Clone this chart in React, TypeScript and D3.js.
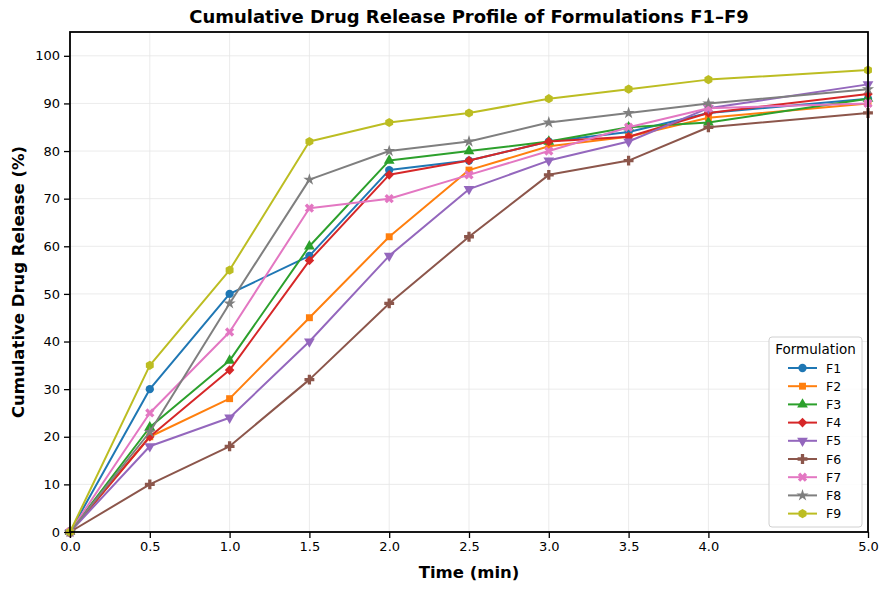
import { useEffect, useRef } from "react";
import * as d3 from "d3";

const times = [0, 0.5, 1.0, 1.5, 2.0, 2.5, 3.0, 3.5, 4.0, 5.0];
const xTicks = [0, 0.5, 1.0, 1.5, 2.0, 2.5, 3.0, 3.5, 4.0, 5.0];
const yTicks = [0, 10, 20, 30, 40, 50, 60, 70, 80, 90, 100];

const formulations = ["F1", "F2", "F3", "F4", "F5", "F6", "F7", "F8", "F9"];
const f1 = [0, 30, 50, 58, 76, 78, 82, 84, 88, 91];
const f2 = [0, 20, 28, 45, 62, 76, 81, 83, 87, 90];
const f3 = [0, 22, 36, 60, 78, 80, 82, 85, 86, 91];
const f4 = [0, 20, 34, 57, 75, 78, 82, 83, 88, 92];
const f5 = [0, 18, 24, 40, 58, 72, 78, 82, 89, 94];
const f6 = [0, 10, 18, 32, 48, 62, 75, 78, 85, 88];
const f7 = [0, 25, 42, 68, 70, 75, 80, 85, 89, 90];
const f8 = [0, 21, 48, 74, 80, 82, 86, 88, 90, 93];
const f9 = [0, 35, 55, 82, 86, 88, 91, 93, 95, 97];
const seriesValues = [f1, f2, f3, f4, f5, f6, f7, f8, f9];

const colors = ["#1f77b4", "#ff7f0e", "#2ca02c", "#d62728", "#9467bd", "#8c564b", "#e377c2", "#7f7f7f", "#bcbd22"];
const markers = ["circle", "square", "triangle", "diamond", "tridown", "plus", "x", "star", "hexagon"];

const hexagon = {
  draw(ctx: any, size: number) {
    const r = Math.sqrt(size / 2.598);
    for (let i = 0; i < 6; i++) {
      const a = (Math.PI / 3) * i - Math.PI / 2;
      const x = r * Math.cos(a);
      const y = r * Math.sin(a);
      if (i === 0) ctx.moveTo(x, y);
      else ctx.lineTo(x, y);
    }
    ctx.closePath();
  },
};

function markerPath(kind: string): { d: string; rotate: number } {
  switch (kind) {
    case "circle":
      return { d: d3.symbol().type(d3.symbolCircle).size(54)() as string, rotate: 0 };
    case "square":
      return { d: d3.symbol().type(d3.symbolSquare).size(48)() as string, rotate: 0 };
    case "triangle":
      return { d: d3.symbol().type(d3.symbolTriangle).size(50)() as string, rotate: 0 };
    case "diamond":
      return { d: d3.symbol().type(d3.symbolSquare).size(46)() as string, rotate: 45 };
    case "tridown":
      return { d: d3.symbol().type(d3.symbolTriangle).size(50)() as string, rotate: 180 };
    case "plus":
      return { d: d3.symbol().type(d3.symbolCross).size(54)() as string, rotate: 0 };
    case "x":
      return { d: d3.symbol().type(d3.symbolCross).size(54)() as string, rotate: 45 };
    case "star":
      return { d: d3.symbol().type(d3.symbolStar).size(46)() as string, rotate: 0 };
    default:
      return { d: d3.symbol().type(hexagon as any).size(54)() as string, rotate: 0 };
  }
}

const W = 889;
const H = 590;
const margin = { top: 32, right: 21, bottom: 58, left: 70 };

export default function App() {
  const svgRef = useRef<SVGSVGElement | null>(null);

  useEffect(() => {
    if (!svgRef.current) return;
    const svg = d3.select(svgRef.current);
    svg.selectAll("*").remove();
    const font = "DejaVu Sans, sans-serif";

    const x = d3.scaleLinear().domain([0, 5]).range([margin.left, W - margin.right]);
    const y = d3.scaleLinear().domain([0, 105]).range([H - margin.bottom, margin.top]);

    svg.append("rect").attr("width", W).attr("height", H).attr("fill", "white");

    // grid
    const grid = svg.append("g");
    grid
      .selectAll("line.gx")
      .data(xTicks)
      .enter()
      .append("line")
      .attr("x1", (d) => x(d))
      .attr("x2", (d) => x(d))
      .attr("y1", margin.top)
      .attr("y2", H - margin.bottom)
      .attr("stroke", "#e6e6e6")
      .attr("stroke-width", 0.8);
    grid
      .selectAll("line.gy")
      .data(yTicks)
      .enter()
      .append("line")
      .attr("x1", margin.left)
      .attr("x2", W - margin.right)
      .attr("y1", (d) => y(d))
      .attr("y2", (d) => y(d))
      .attr("stroke", "#e6e6e6")
      .attr("stroke-width", 0.8);

    // lines
    const line = d3
      .line<number>()
      .x((_, i) => x(times[i]))
      .y((d) => y(d));

    const plot = svg.append("g");
    seriesValues.forEach((vals, si) => {
      plot
        .append("path")
        .datum(vals)
        .attr("d", line)
        .attr("fill", "none")
        .attr("stroke", colors[si])
        .attr("stroke-width", 2)
        .attr("stroke-linejoin", "round");
      const m = markerPath(markers[si]);
      plot
        .selectAll(`path.m${si}`)
        .data(vals)
        .enter()
        .append("path")
        .attr("d", m.d)
        .attr("transform", (d, i) => `translate(${x(times[i])},${y(d)}) rotate(${m.rotate})`)
        .attr("fill", colors[si]);
    });

    // axes
    const xAxis = svg
      .append("g")
      .attr("transform", `translate(0,${H - margin.bottom})`)
      .call(
        d3
          .axisBottom(x)
          .tickValues(xTicks)
          .tickFormat(d3.format(".1f"))
          .tickSize(6)
          .tickPadding(4)
      );
    const yAxis = svg
      .append("g")
      .attr("transform", `translate(${margin.left},0)`)
      .call(d3.axisLeft(y).tickValues(yTicks).tickSize(6).tickPadding(4));
    [xAxis, yAxis].forEach((a) => {
      a.select(".domain").remove();
      a.selectAll("line").attr("stroke", "#000").attr("stroke-width", 1.3);
      a.selectAll("text").attr("font-family", font).attr("font-size", 13).attr("fill", "#000");
    });

    // spines
    svg
      .append("rect")
      .attr("x", margin.left)
      .attr("y", margin.top)
      .attr("width", W - margin.left - margin.right)
      .attr("height", H - margin.top - margin.bottom)
      .attr("fill", "none")
      .attr("stroke", "#000")
      .attr("stroke-width", 1.8);

    // labels
    svg
      .append("text")
      .attr("x", (margin.left + W - margin.right) / 2)
      .attr("y", 23)
      .attr("text-anchor", "middle")
      .attr("font-family", font)
      .attr("font-weight", "bold")
      .attr("font-size", 18)
      .text("Cumulative Drug Release Profile of Formulations F1–F9");
    svg
      .append("text")
      .attr("x", (margin.left + W - margin.right) / 2)
      .attr("y", 578)
      .attr("text-anchor", "middle")
      .attr("font-family", font)
      .attr("font-weight", "bold")
      .attr("font-size", 16.5)
      .text("Time (min)");
    svg
      .append("text")
      .attr("transform", `translate(24,${(margin.top + H - margin.bottom) / 2}) rotate(-90)`)
      .attr("text-anchor", "middle")
      .attr("font-family", font)
      .attr("font-weight", "bold")
      .attr("font-size", 16.5)
      .text("Cumulative Drug Release (%)");

    // legend
    const lg = svg.append("g").attr("transform", "translate(769,337)");
    lg.append("rect")
      .attr("width", 93)
      .attr("height", 190)
      .attr("rx", 3)
      .attr("fill", "white")
      .attr("fill-opacity", 0.85)
      .attr("stroke", "#d0d0d0");
    lg.append("text")
      .attr("x", 46.5)
      .attr("y", 17)
      .attr("text-anchor", "middle")
      .attr("font-family", font)
      .attr("font-size", 13.5)
      .text("Formulation");
    formulations.forEach((name, i) => {
      const cy = 31 + i * 18.2;
      lg.append("line")
        .attr("x1", 19)
        .attr("x2", 48)
        .attr("y1", cy)
        .attr("y2", cy)
        .attr("stroke", colors[i])
        .attr("stroke-width", 2);
      const m = markerPath(markers[i]);
      lg.append("path")
        .attr("d", m.d)
        .attr("transform", `translate(33.5,${cy}) rotate(${m.rotate})`)
        .attr("fill", colors[i]);
      lg.append("text")
        .attr("x", 57)
        .attr("y", cy + 4.5)
        .attr("font-family", font)
        .attr("font-size", 12.5)
        .text(name);
    });
  }, []);

  return (
    <div style={{ position: "fixed", left: 0, top: 0 }}>
      <svg ref={svgRef} width={W} height={H} style={{ display: "block" }} />
    </div>
  );
}
